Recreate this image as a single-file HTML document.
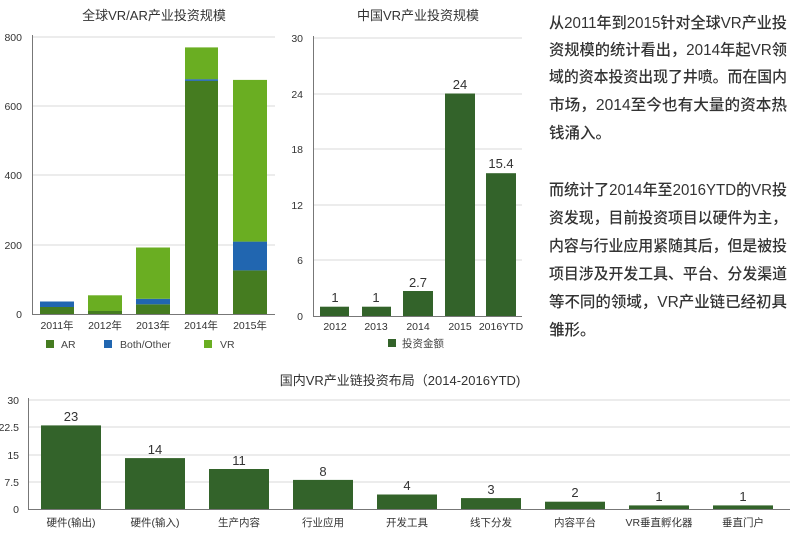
<!DOCTYPE html>
<html><head><meta charset="utf-8"><style>
body{margin:0;background:#fff;width:800px;height:534px;overflow:hidden}
svg{display:block}
text{font-family:"Liberation Sans","Noto Sans CJK SC",sans-serif;fill:#333}
.t{font-size:13px;fill:#333}
.ax{font-size:10.5px;fill:#444}
.v{font-size:13px;fill:#333}
.p{font-size:15.5px;fill:#111;font-weight:500;font-family:"Noto Sans CJK SC","Liberation Sans",sans-serif}
.g{stroke:#d8d8d8;stroke-width:1}
</style></head><body>
<svg width="800" height="534" viewBox="0 0 800 534">
<!-- Chart 1 -->
<text x="154" y="20" class="t" text-anchor="middle">全球VR/AR产业投资规模</text>
<g class="g"><line x1="33" y1="37" x2="275" y2="37"/><line x1="33" y1="106" x2="275" y2="106"/><line x1="33" y1="175" x2="275" y2="175"/><line x1="33" y1="245" x2="275" y2="245"/></g>
<g class="ax" text-anchor="end"><text x="22" y="41">800</text><text x="22" y="110">600</text><text x="22" y="179">400</text><text x="22" y="249">200</text><text x="22" y="318">0</text></g>
<g>
<rect x="40" y="307" width="34" height="7" fill="#457c20"/><rect x="40" y="301.5" width="34" height="5.5" fill="#2166b0"/>
<rect x="88" y="311" width="34" height="3" fill="#457c20"/><rect x="88" y="295.3" width="34" height="15.7" fill="#6aae22"/>
<rect x="136" y="304.3" width="34" height="9.7" fill="#457c20"/><rect x="136" y="298.8" width="34" height="5.5" fill="#2166b0"/><rect x="136" y="247.5" width="34" height="51.3" fill="#6aae22"/>
<rect x="185" y="80.9" width="33" height="233.1" fill="#457c20"/><rect x="185" y="79.2" width="33" height="1.7" fill="#2166b0"/><rect x="185" y="47.4" width="33" height="31.8" fill="#6aae22"/>
<rect x="233" y="270.4" width="34" height="43.6" fill="#457c20"/><rect x="233" y="241.6" width="34" height="28.8" fill="#2166b0"/><rect x="233" y="79.9" width="34" height="161.7" fill="#6aae22"/>
</g>
<line x1="32.5" y1="35" x2="32.5" y2="314" stroke="#777"/><line x1="32" y1="314.5" x2="275" y2="314.5" stroke="#777"/>
<g class="ax" text-anchor="middle"><text x="57" y="329">2011年</text><text x="105" y="329">2012年</text><text x="153" y="329">2013年</text><text x="201" y="329">2014年</text><text x="250" y="329">2015年</text></g>
<rect x="46" y="340" width="8" height="8" fill="#457c20"/><text x="61" y="348" class="ax">AR</text>
<rect x="104" y="340" width="8" height="8" fill="#2166b0"/><text x="120" y="348" class="ax">Both/Other</text>
<rect x="204" y="340" width="8" height="8" fill="#6aae22"/><text x="220" y="348" class="ax">VR</text>

<!-- Chart 2 -->
<text x="418" y="20" class="t" text-anchor="middle">中国VR产业投资规模</text>
<g class="g"><line x1="313" y1="38" x2="522" y2="38"/><line x1="313" y1="94" x2="522" y2="94"/><line x1="313" y1="149" x2="522" y2="149"/><line x1="313" y1="205" x2="522" y2="205"/><line x1="313" y1="260" x2="522" y2="260"/></g>
<g class="ax" text-anchor="end"><text x="303" y="42">30</text><text x="303" y="98">24</text><text x="303" y="153">18</text><text x="303" y="209">12</text><text x="303" y="264">6</text><text x="303" y="320">0</text></g>
<g fill="#33632a">
<rect x="320" y="306.7" width="29" height="9.3"/><rect x="362" y="306.7" width="29" height="9.3"/><rect x="403" y="291" width="30" height="25"/><rect x="445" y="93.5" width="30" height="222.5"/><rect x="486" y="173.2" width="30" height="142.8"/>
</g>
<line x1="313.5" y1="36" x2="313.5" y2="316" stroke="#777"/><line x1="313" y1="316.5" x2="522" y2="316.5" stroke="#777"/>
<g class="v" text-anchor="middle"><text x="335" y="302">1</text><text x="376" y="302">1</text><text x="418" y="287">2.7</text><text x="460" y="89">24</text><text x="501" y="168">15.4</text></g>
<g class="ax" text-anchor="middle"><text x="335" y="330">2012</text><text x="376" y="330">2013</text><text x="418" y="330">2014</text><text x="460" y="330">2015</text><text x="501" y="330">2016YTD</text></g>
<rect x="388" y="339" width="8" height="8" fill="#33632a"/><text x="402" y="347" class="ax">投资金额</text>

<!-- Chart 3 -->
<text x="400" y="385" class="t" text-anchor="middle">国内VR产业链投资布局（2014-2016YTD)</text>
<g class="g"><line x1="28" y1="400" x2="790" y2="400"/><line x1="28" y1="427" x2="790" y2="427"/><line x1="28" y1="455" x2="790" y2="455"/><line x1="28" y1="482" x2="790" y2="482"/></g>
<g class="ax" text-anchor="end"><text x="19" y="404">30</text><text x="19" y="431">22.5</text><text x="19" y="459">15</text><text x="19" y="486">7.5</text><text x="19" y="513">0</text></g>
<g fill="#33632a">
<rect x="41" y="425.4" width="60" height="83.6"/><rect x="125" y="458.1" width="60" height="50.9"/><rect x="209" y="469" width="60" height="40"/><rect x="293" y="479.9" width="60" height="29.1"/><rect x="377" y="494.5" width="60" height="14.5"/><rect x="461" y="498.1" width="60" height="10.9"/><rect x="545" y="501.7" width="60" height="7.3"/><rect x="629" y="505.4" width="60" height="3.6"/><rect x="713" y="505.4" width="60" height="3.6"/>
</g>
<line x1="28.5" y1="398" x2="28.5" y2="509" stroke="#777"/><line x1="28" y1="509.5" x2="790" y2="509.5" stroke="#777"/>
<g class="v" text-anchor="middle"><text x="71" y="421">23</text><text x="155" y="454">14</text><text x="239" y="465">11</text><text x="323" y="476">8</text><text x="407" y="490">4</text><text x="491" y="494">3</text><text x="575" y="497">2</text><text x="659" y="501">1</text><text x="743" y="501">1</text></g>
<g class="ax" text-anchor="middle"><text x="71" y="526">硬件(输出)</text><text x="155" y="526">硬件(输入)</text><text x="239" y="526">生产内容</text><text x="323" y="526">行业应用</text><text x="407" y="526">开发工具</text><text x="491" y="526">线下分发</text><text x="575" y="526">内容平台</text><text x="659" y="526">VR垂直孵化器</text><text x="743" y="526">垂直门户</text></g>

<!-- Text -->
<g class="p">
<text x="549" y="28" textLength="238" lengthAdjust="spacingAndGlyphs">从2011年到2015针对全球VR产业投</text>
<text x="549" y="55" textLength="238" lengthAdjust="spacingAndGlyphs">资规模的统计看出，2014年起VR领</text>
<text x="549" y="82" textLength="238" lengthAdjust="spacingAndGlyphs">域的资本投资出现了井喷。而在国内</text>
<text x="549" y="110" textLength="238" lengthAdjust="spacingAndGlyphs">市场，2014至今也有大量的资本热</text>
<text x="549" y="138">钱涌入。</text>
<text x="549" y="195" textLength="238" lengthAdjust="spacingAndGlyphs">而统计了2014年至2016YTD的VR投</text>
<text x="549" y="223" textLength="238" lengthAdjust="spacingAndGlyphs">资发现，目前投资项目以硬件为主，</text>
<text x="549" y="251" textLength="238" lengthAdjust="spacingAndGlyphs">内容与行业应用紧随其后，但是被投</text>
<text x="549" y="279" textLength="238" lengthAdjust="spacingAndGlyphs">项目涉及开发工具、平台、分发渠道</text>
<text x="549" y="307" textLength="238" lengthAdjust="spacingAndGlyphs">等不同的领域，VR产业链已经初具</text>
<text x="549" y="335">雏形。</text>
</g>
</svg>
</body></html>
